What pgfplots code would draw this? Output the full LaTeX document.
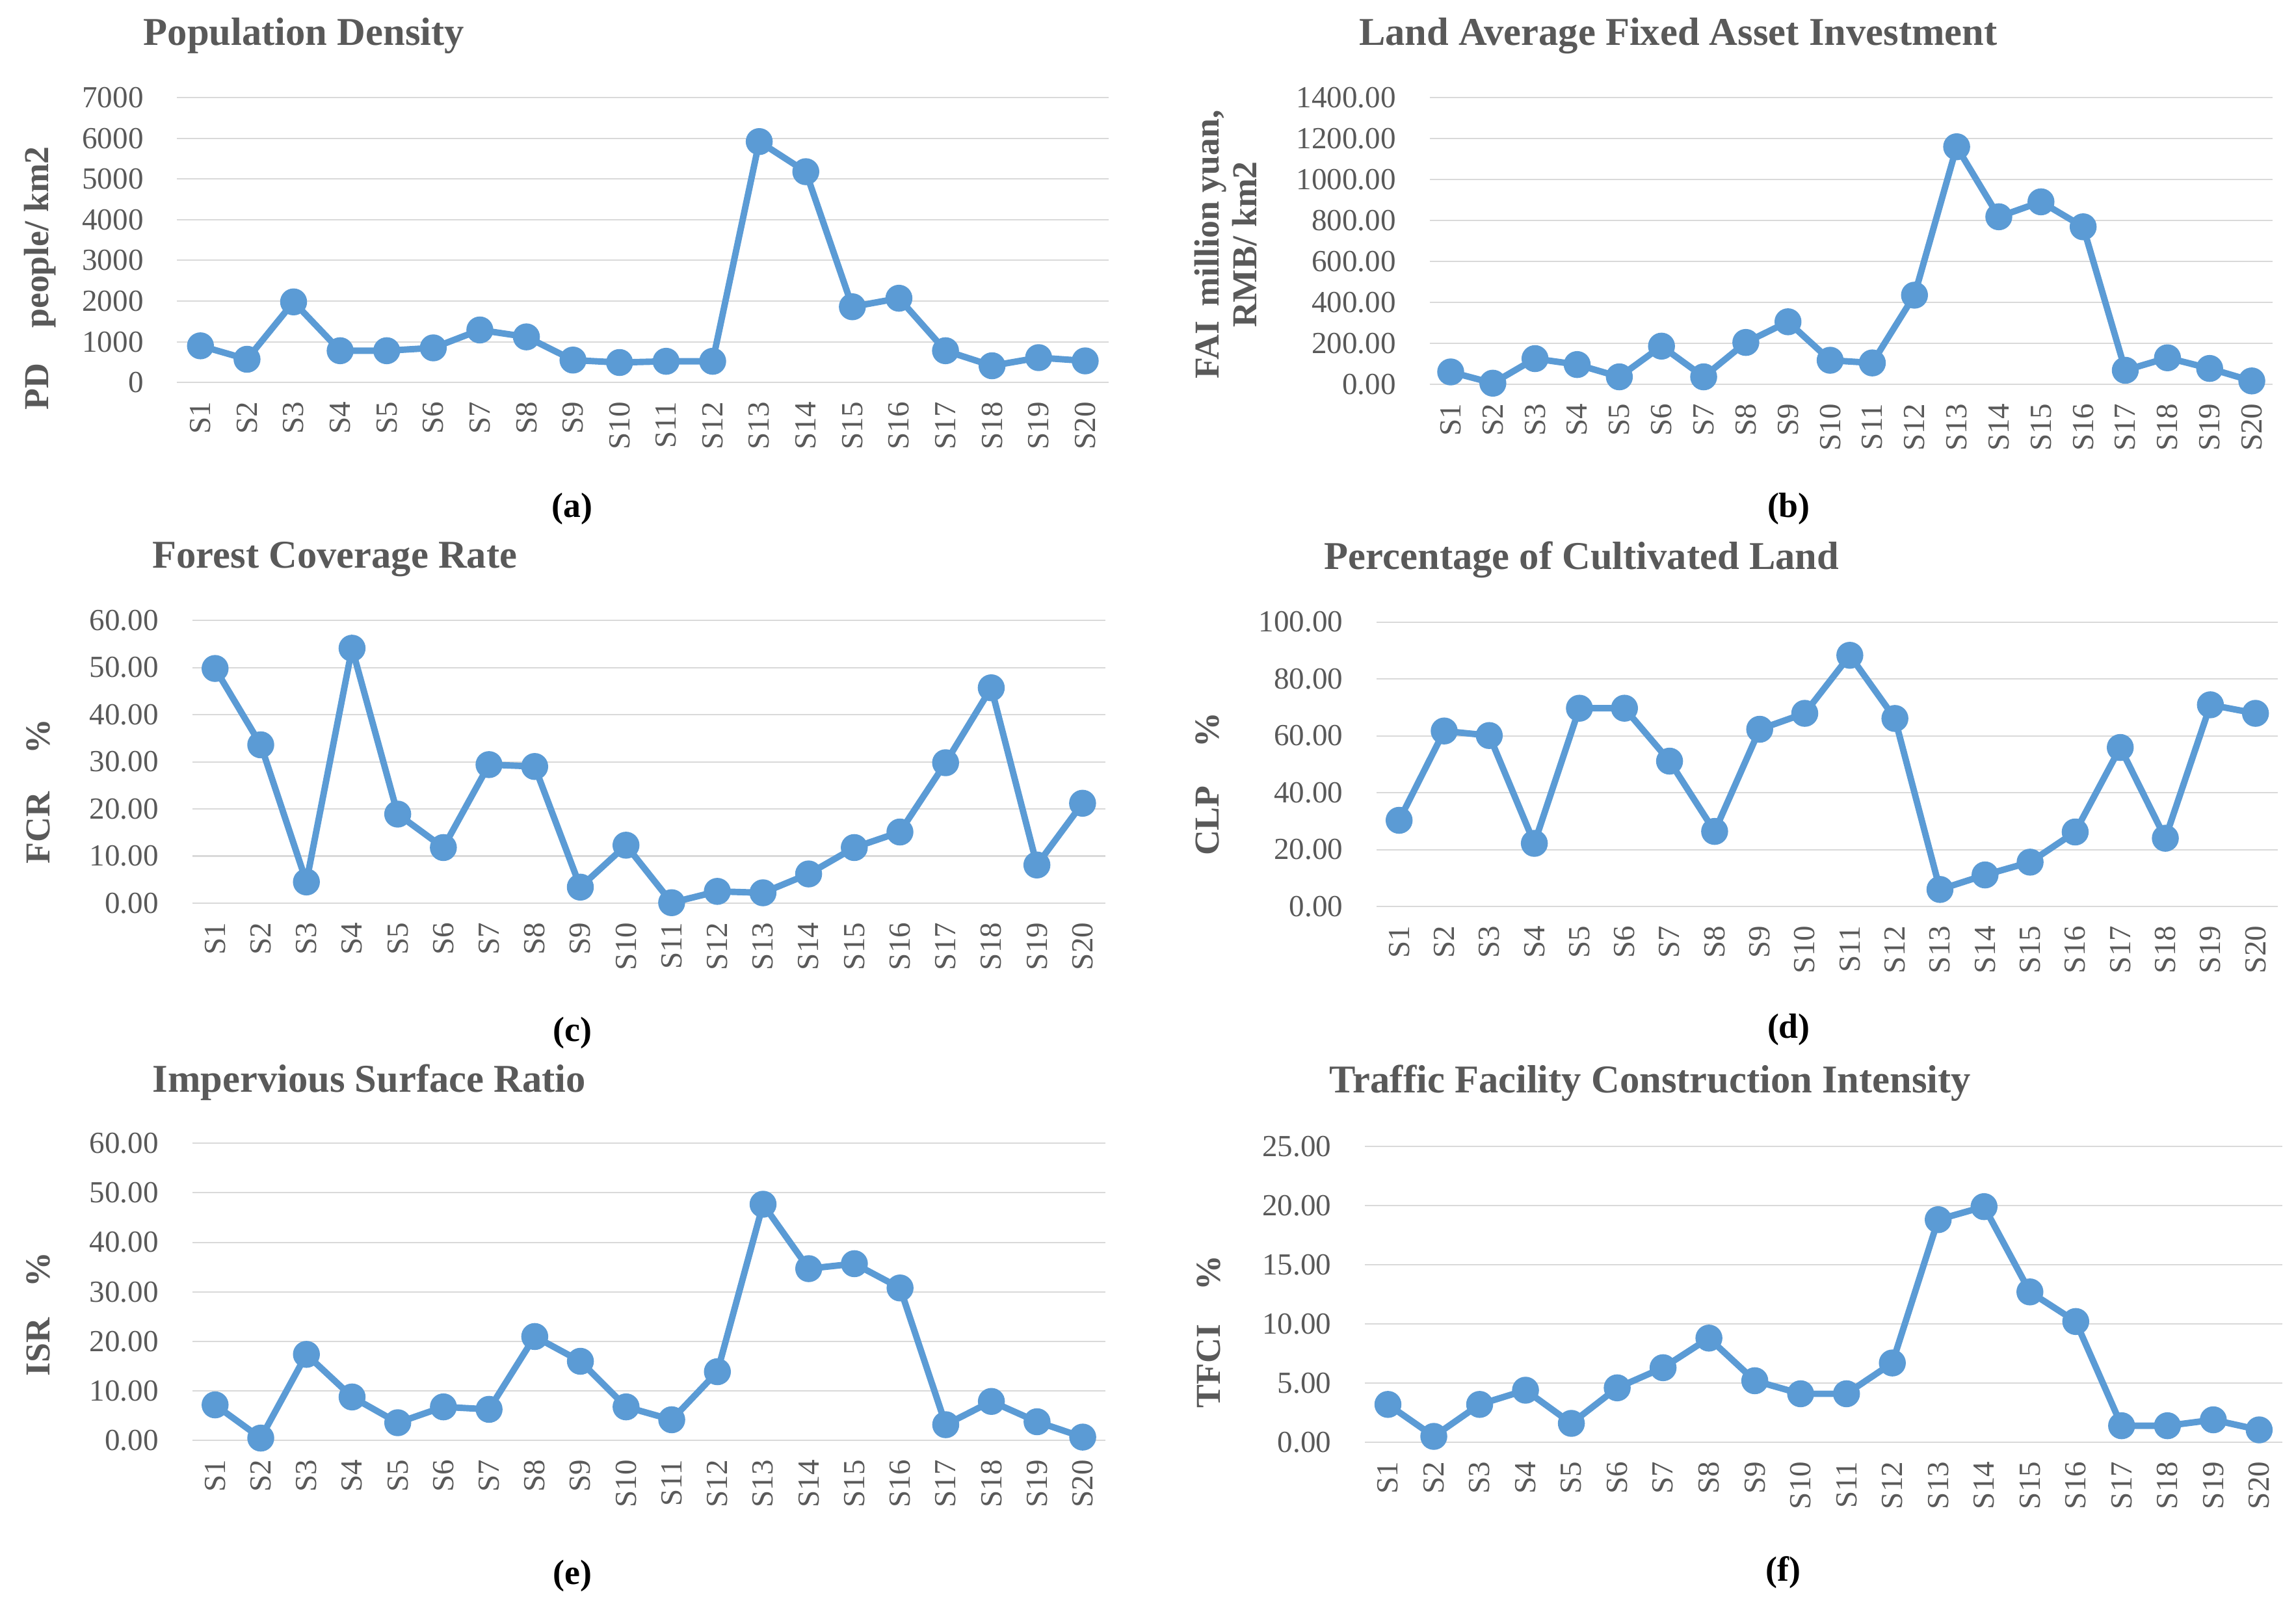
\documentclass[border=0pt]{standalone}
\usepackage{fontspec}
\setmainfont{Liberation Serif}
\usepackage{pgfplots}
\pgfplotsset{compat=1.18}
\definecolor{txtc}{HTML}{595959}
\definecolor{lineblue}{HTML}{5B9BD5}
\definecolor{gridc}{HTML}{D9D9D9}
\newcommand{\xl}[1]{\fontsize{10.5}{12}\selectfont\color{txtc}#1\hspace*{6.6bp}}
\pgfplotsset{
  panel/.style={
    scale only axis, anchor=south west, clip=false,
    xmin=0.5, xmax=20.5, ymin=0,
    xtick={1,...,20},
    xticklabels={\xl{S1},\xl{S2},\xl{S3},\xl{S4},\xl{S5},\xl{S6},\xl{S7},\xl{S8},\xl{S9},\xl{S10},\xl{S11},\xl{S12},\xl{S13},\xl{S14},\xl{S15},\xl{S16},\xl{S17},\xl{S18},\xl{S19},\xl{S20}},
    axis line style={draw=none},
    major tick length=0pt,
    ymajorgrids, xmajorgrids=false,
    grid style={draw=gridc, line width=0.45bp},
    /pgf/number format/assume math mode=true,
    xticklabel style={rotate=90, anchor=east, inner sep=0pt, outer sep=0pt},
    yticklabel style={font=\fontsize{10.5}{12}\selectfont, text=txtc, xshift=-8bp},
  },
  ser/.style={color=lineblue, line width=2.2bp, mark=*, mark size=3.5bp, mark options={solid, fill=lineblue}},
}
\newcommand{\ttl}{\fontsize{13.5}{16}\bfseries\selectfont\color{txtc}}
\newcommand{\ylab}{\fontsize{12}{13}\bfseries\selectfont\color{txtc}}
\newcommand{\plab}{\fontsize{12}{14}\bfseries\selectfont}
\begin{document}
\begin{tikzpicture}
\path[use as bounding box] (0,0) rectangle (784bp,549.75bp);

% (a)
\begin{axis}[panel, at={(60.5bp,419.15bp)}, width=318bp, height=97.25bp,
  ymax=7000, ytick={0,1000,...,7000}, yticklabels={0,1000,2000,3000,4000,5000,6000,7000}]
\addplot[ser] coordinates {(1,900) (2,570) (3,1980) (4,780) (5,780) (6,850) (7,1290) (8,1120) (9,550) (10,490) (11,520) (12,520) (13,5920) (14,5180) (15,1860) (16,2070) (17,780) (18,410) (19,610) (20,530)};
\end{axis}

% (b)
\begin{axis}[panel, at={(488.15bp,418.55bp)}, width=287.95bp, height=97.85bp,
  ymax=1400, ytick={0,200,...,1400}, yticklabels={0.00,200.00,400.00,600.00,800.00,1000.00,1200.00,1400.00}]
\addplot[ser] coordinates {(1,60) (2,5) (3,125) (4,96) (5,36) (6,186) (7,36) (8,204) (9,305) (10,117) (11,104) (12,435) (13,1160) (14,818) (15,891) (16,769) (17,68) (18,129) (19,77) (20,16)};
\end{axis}

% (c)
\begin{axis}[panel, at={(65.65bp,241.35bp)}, width=311.8bp, height=96.55bp,
  ymax=60, ytick={0,10,...,60}, yticklabels={0.00,10.00,20.00,30.00,40.00,50.00,60.00}]
\addplot[ser] coordinates {(1,49.8) (2,33.6) (3,4.5) (4,54.1) (5,18.9) (6,11.8) (7,29.4) (8,29.0) (9,3.4) (10,12.3) (11,0.1) (12,2.5) (13,2.2) (14,6.2) (15,11.8) (16,15.1) (17,29.8) (18,45.7) (19,8.1) (20,21.2)};
\end{axis}

% (d)
\begin{axis}[panel, at={(470.05bp,240.2bp)}, width=307.8bp, height=97.15bp,
  ymax=100, ytick={0,20,...,100}, yticklabels={0.00,20.00,40.00,60.00,80.00,100.00}]
\addplot[ser] coordinates {(1,30.3) (2,61.7) (3,60.1) (4,22.2) (5,69.7) (6,69.7) (7,51.1) (8,26.4) (9,62.3) (10,67.9) (11,88.3) (12,66.1) (13,6.0) (14,11.1) (15,15.6) (16,26.2) (17,55.9) (18,24.0) (19,70.9) (20,67.9)};
\end{axis}

% (e)
\begin{axis}[panel, at={(65.65bp,57.85bp)}, width=311.85bp, height=101.5bp,
  ymax=60, ytick={0,10,...,60}, yticklabels={0.00,10.00,20.00,30.00,40.00,50.00,60.00}]
\addplot[ser] coordinates {(1,7.2) (2,0.5) (3,17.4) (4,8.8) (5,3.6) (6,6.8) (7,6.3) (8,21.0) (9,16.0) (10,6.8) (11,4.2) (12,13.9) (13,47.7) (14,34.7) (15,35.7) (16,30.8) (17,3.2) (18,7.9) (19,3.8) (20,0.7)};
\end{axis}

% (f)
\begin{axis}[panel, at={(466.1bp,57.25bp)}, width=313.15bp, height=101.1bp,
  ymax=25, ytick={0,5,...,25}, yticklabels={0.00,5.00,10.00,15.00,20.00,25.00}]
\addplot[ser] coordinates {(1,3.2) (2,0.5) (3,3.2) (4,4.4) (5,1.6) (6,4.6) (7,6.3) (8,8.8) (9,5.2) (10,4.1) (11,4.1) (12,6.7) (13,18.8) (14,19.9) (15,12.7) (16,10.2) (17,1.4) (18,1.4) (19,1.9) (20,1.05)};
\end{axis}

% titles
\node[anchor=base west, inner sep=0] at (48.85bp,534.4bp) {\ttl Population Density};
\node[anchor=base west, inner sep=0] at (463.85bp,534.4bp) {\ttl Land Average Fixed Asset Investment};
\node[anchor=base west, inner sep=0] at (51.9bp,355.75bp) {\ttl Forest Coverage Rate};
\node[anchor=base west, inner sep=0] at (452.05bp,355.3bp) {\ttl Percentage of Cultivated Land};
\node[anchor=base west, inner sep=0] at (51.9bp,176.9bp) {\ttl Impervious Surface Ratio};
\node[anchor=base west, inner sep=0] at (453.8bp,176.65bp) {\ttl Traffic Facility Construction Intensity};

% y labels
\node[rotate=90, inner sep=0] at (13.75bp,454.75bp) {\ylab PD\hspace{12bp}people/ km2};
\node[rotate=90, inner sep=0, align=center, font=\ylab] at (418.5bp,466.25bp) {FAI\hspace{5bp}million yuan,\\RMB/ km2};
\node[rotate=90, inner sep=0] at (13bp,279.6bp) {\ylab FCR\hspace{13bp}\%};
\node[rotate=90, inner sep=0] at (412.2bp,282bp) {\ylab CLP\hspace{13bp}\%};
\node[rotate=90, inner sep=0] at (13bp,101.1bp) {\ylab ISR\hspace{10.5bp}\%};
\node[rotate=90, inner sep=0] at (412.7bp,95.05bp) {\ylab TFCI\hspace{11.5bp}\%};

% panel labels
\node[inner sep=0] at (195.45bp,376.1bp) {\plab (a)};
\node[inner sep=0] at (610.8bp,376.1bp) {\plab (b)};
\node[inner sep=0] at (195.45bp,197.05bp) {\plab (c)};
\node[inner sep=0] at (610.8bp,198.2bp) {\plab (d)};
\node[inner sep=0] at (195.45bp,11.55bp) {\plab (e)};
\node[inner sep=0] at (609bp,12.75bp) {\plab (f)};
\end{tikzpicture}
\end{document}
